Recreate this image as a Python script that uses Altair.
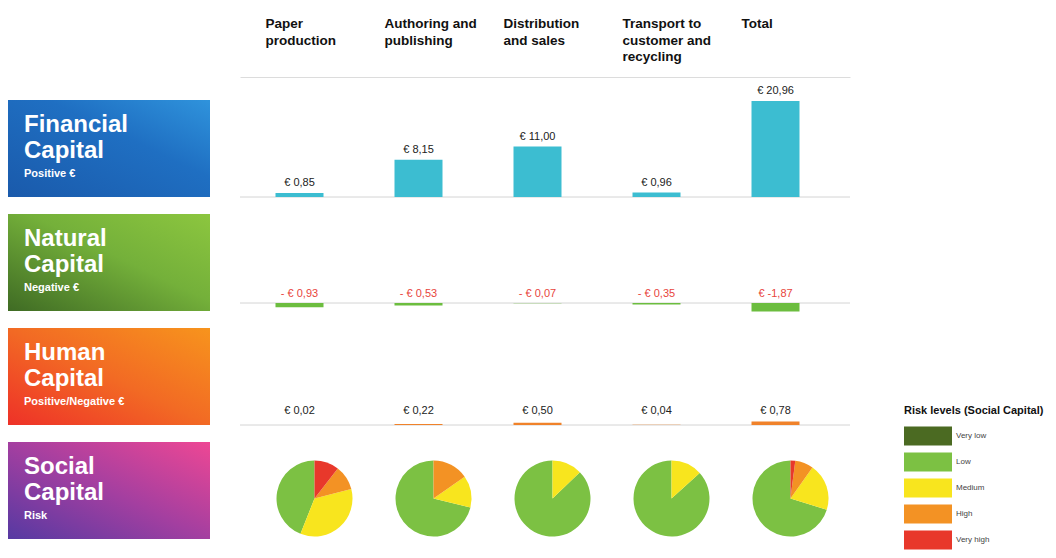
import altair as alt
import pandas as pd

# ---------------- data ----------------
stages = ["Paper production", "Authoring and publishing", "Distribution and sales",
          "Transport to customer and recycling", "Total"]
headers = ["Paper\nproduction", "Authoring and\npublishing", "Distribution\nand sales",
           "Transport to\ncustomer and\nrecycling", "Total"]

financial = [0.85, 8.15, 11.00, 0.96, 20.96]
financial_labels = ["€ 0,85", "€ 8,15", "€ 11,00", "€ 0,96", "€ 20,96"]

natural = [-0.93, -0.53, -0.07, -0.35, -1.87]
natural_labels = ["- € 0,93", "- € 0,53", "- € 0,07", "- € 0,35", "€ -1,87"]

human = [0.02, 0.22, 0.50, 0.04, 0.78]
human_labels = ["€ 0,02", "€ 0,22", "€ 0,50", "€ 0,04", "€ 0,78"]

risk_levels = ["Very low", "Low", "Medium", "High", "Very high"]
risk_colors = ["#4b6a22", "#7cc143", "#f8e51e", "#f39224", "#e8382b"]
# share of each risk level in every stage (percent)
pie_very_low = [0, 0, 0, 0, 0]
pie_low = [44.0, 71.2, 87.2, 86.7, 70.2]
pie_medium = [35.0, 13.5, 12.8, 13.3, 20.0]
pie_high = [10.5, 15.3, 0, 0, 7.8]
pie_very_high = [10.5, 0, 0, 0, 2.0]

capitals = ["Financial", "Natural", "Human", "Social"]
capital_line2 = ["Capital", "Capital", "Capital", "Capital"]
capital_sub = ["Positive €", "Negative €", "Positive/Negative €", "Risk"]

# ---------------- tables ----------------
fin_df = pd.DataFrame({"stage": stages, "value": financial, "label": financial_labels})
nat_df = pd.DataFrame({"stage": stages, "value": natural, "label": natural_labels})
hum_df = pd.DataFrame({"stage": stages, "value": human, "label": human_labels})
head_df = pd.DataFrame({"stage": stages, "header": headers})
zero_df = pd.DataFrame({"baseline": [0]})

pie_rows = []
for lvl, shares in zip(risk_levels, [pie_very_low, pie_low, pie_medium, pie_high, pie_very_high]):
    for st, s in zip(stages, shares):
        if s > 0:
            pie_rows.append({"stage": st, "level": lvl, "share": s,
                             "rank": risk_levels.index(lvl)})
pie_df = pd.DataFrame(pie_rows)

box_df = pd.DataFrame({"capital": capitals, "line2": capital_line2, "sub": capital_sub})

# ---------------- layout constants ----------------
FONT = "Liberation Sans"
W = 610
ROW_H = 97
PX = 4.58  # pixels per euro

xscale = alt.Scale(type="band", domain=stages, paddingInner=0, paddingOuter=0.063, align=0)


def X(axis=None):
    if axis is None:
        return alt.X("stage:N", scale=xscale, axis=None, title=None)
    return alt.X("stage:N", scale=xscale, axis=axis, title=None)


# ---------------- header ----------------
header = alt.Chart(head_df).mark_text(
    align="left", baseline="top", dx=-34, fontSize=13.5, fontWeight="bold",
    lineBreak="\n", lineHeight=16.5, color="#111"
).encode(
    x=X(alt.Axis(labels=False, ticks=False, grid=False, domainColor="#dcdcdc", domainWidth=1)),
    y=alt.value(9),
    text="header:N",
).properties(width=W, height=69)

# ---------------- financial ----------------
fin_y = alt.Scale(domain=[0, ROW_H / PX], nice=False)
fin = alt.layer(
    alt.Chart(zero_df).mark_rule(color="#d4d4d4", strokeWidth=1).encode(
        y=alt.Y("baseline:Q", scale=fin_y, axis=None)),
    alt.Chart(fin_df).mark_bar(width=48, color="#3cbdd1").encode(
        x=X(), y=alt.Y("value:Q", scale=fin_y, axis=None)),
    alt.Chart(fin_df).mark_text(baseline="bottom", dy=-5, fontSize=11, color="#222").encode(
        x=X(), y=alt.Y("value:Q", scale=fin_y, axis=None), text="label:N"),
).properties(width=W, height=ROW_H)

# ---------------- natural ----------------
nat_y = alt.Scale(domain=[-(ROW_H - 89) / PX, 89 / PX], nice=False)
nat = alt.layer(
    alt.Chart(zero_df).mark_rule(color="#d4d4d4", strokeWidth=1).encode(
        y=alt.Y("baseline:Q", scale=nat_y, axis=None)),
    alt.Chart(nat_df).mark_bar(width=48, color="#6cbd3f").encode(
        x=X(), y=alt.Y("value:Q", scale=nat_y, axis=None)),
    alt.Chart(nat_df).mark_text(baseline="bottom", dy=-4, fontSize=11, color="#e8453c").encode(
        x=X(), y=alt.Y("baseline:Q", scale=nat_y, axis=None), text="label:N"
    ).transform_calculate(baseline="0"),
).properties(width=W, height=ROW_H)

# ---------------- human ----------------
hum_y = alt.Scale(domain=[0, ROW_H / PX], nice=False)
hum = alt.layer(
    alt.Chart(zero_df).mark_rule(color="#d4d4d4", strokeWidth=1).encode(
        y=alt.Y("baseline:Q", scale=hum_y, axis=None)),
    alt.Chart(hum_df).mark_bar(width=48, color="#f0822a").encode(
        x=X(), y=alt.Y("value:Q", scale=hum_y, axis=None)),
    alt.Chart(hum_df).mark_text(baseline="bottom", dy=-9, fontSize=11, color="#222").encode(
        x=X(), y=alt.Y("baseline:Q", scale=hum_y, axis=None), text="label:N"
    ).transform_calculate(baseline="0"),
).properties(width=W, height=ROW_H)

# ---------------- social (pies) ----------------
soc = alt.Chart(pie_df).transform_stack(
    stack="share", groupby=["stage"], as_=["t0", "t1"],
    sort=[alt.SortField("rank", order="descending")]
).mark_arc(radius=38, xOffset=15, yOffset=8, strokeWidth=0).encode(
    x=X(),
    theta=alt.Theta("t0:Q", scale=alt.Scale(domain=[0, 100]), stack=False),
    theta2="t1:Q",
    color=alt.Color("level:N", scale=alt.Scale(domain=risk_levels, range=risk_colors),
                    legend=alt.Legend(
                        title="Risk levels (Social Capital)", orient="none",
                        legendX=896, legendY=397, padding=0,
                        symbolType="M-1,-0.95H3.8V0.95H-1Z", symbolSize=400,
                        symbolStrokeWidth=0, symbolOpacity=1,
                        rowPadding=6, labelOffset=32, labelFontSize=8, labelColor="#444",
                        titleFontSize=11, titleFontWeight="bold", titleColor="#111",
                        titlePadding=10)),
).properties(width=W, height=ROW_H)

# ---------------- left boxes ----------------
yband = alt.Scale(type="band", domain=capitals, paddingInner=0.1491, paddingOuter=0.4035, align=1)
YB = alt.Y("capital:N", scale=yband, axis=None)

gradient_stops = [
    [(0, "#1a5aab"), (0.6, "#1f6fc2"), (1, "#2f93dc")],
    [(0, "#3f6b24"), (0.55, "#74b03a"), (1, "#8cc63f")],
    [(0, "#ee3128"), (0.5, "#f26a24"), (1, "#f7941d")],
    [(0, "#5639a2"), (0.5, "#a43fa0"), (1, "#ee4794")],
]
box_layers = []
for cap, stops in zip(capitals, gradient_stops):
    box_layers.append(
        alt.Chart(box_df).transform_filter(alt.datum.capital == cap).mark_rect(
            fill=alt.LinearGradient(
                gradient="linear",
                stops=[alt.GradientStop(color=c, offset=o) for o, c in stops],
                x1=0, y1=1, x2=1, y2=0)
        ).encode(y=YB)
    )
box_layers.append(alt.Chart(box_df).mark_text(
    align="left", baseline="middle", dy=-23.5, fontSize=24, fontWeight="bold", color="white"
).encode(x=alt.value(16), y=YB, text="capital:N"))
box_layers.append(alt.Chart(box_df).mark_text(
    align="left", baseline="middle", dy=2.5, fontSize=24, fontWeight="bold", color="white"
).encode(x=alt.value(16), y=YB, text="line2:N"))
box_layers.append(alt.Chart(box_df).mark_text(
    align="left", baseline="middle", dy=25.5, fontSize=11, fontWeight="bold", color="white"
).encode(x=alt.value(16), y=YB, text="sub:N"))

left = alt.layer(*box_layers).properties(width=202, height=531)

body = alt.vconcat(fin, nat, hum, soc, spacing=17, bounds="flush")
right = alt.vconcat(header, body, spacing=23, bounds="flush")

chart = alt.hconcat(left, right, spacing=30, bounds="flush").properties(
    padding=0
).configure(font=FONT).configure_view(strokeWidth=0)

chart.save("out.html", embed_options={"renderer": "svg", "actions": False})
